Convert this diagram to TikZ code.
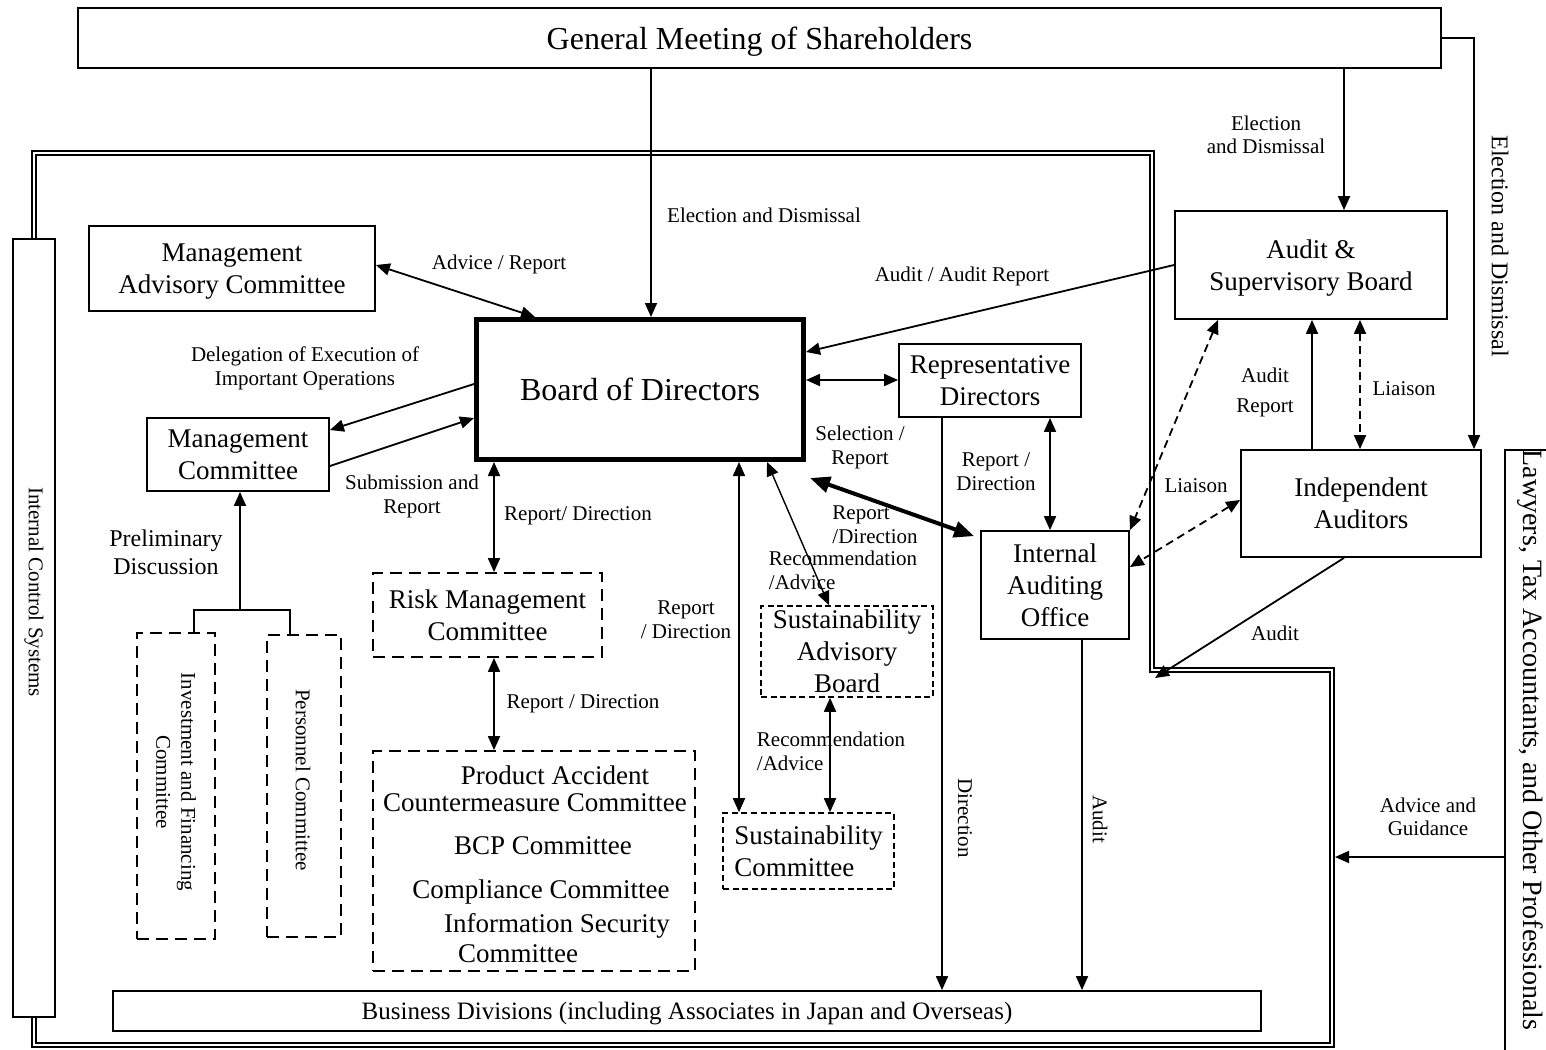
\documentclass[tikz,border=0pt]{standalone}
\usepackage{fontspec}
\setmainfont{Liberation Serif}
\usetikzlibrary{arrows.meta}
\newcommand\bxf{\fontsize{13.5}{16}\selectfont}
\newcommand\lbf{\fontsize{10.5}{12}\selectfont}
\begin{document}
\begin{tikzpicture}[x=0.5pt,y=-0.5pt,
  >={Triangle[length=7pt,width=6pt]},
  box/.style={draw,line width=0.9pt,inner sep=0pt,align=center,font=\bxf,text depth=0pt},
  dbox/.style={box,dash pattern=on 6pt off 3.5pt},
  fbox/.style={box,line width=0.8pt,dash pattern=on 3pt off 1.8pt},
  lbl/.style={font=\lbf,align=center,inner sep=0pt,text depth=0pt},
  rlbl/.style={font=\lbf,align=center,inner sep=0pt,rotate=-90},
  txt/.style={font=\bxf,inner sep=0pt,text depth=0pt},
  arr/.style={line width=0.9pt,->},
  darr/.style={line width=0.9pt,<->},
  dashedarr/.style={line width=0.9pt,<->,dash pattern=on 4pt off 2.5pt},
  dline/.style={double,double distance=1.3pt,line width=0.75pt}
]
\useasboundingbox (0,0) rectangle (1546,1049);

% ---------- boxes ----------
\node[box,minimum width=681.5pt,minimum height=30pt,font=\fontsize{16}{18}\selectfont] (GM) at (759.5,38) {General Meeting of Shareholders};
\node[box,line width=2.5pt,minimum width=163.5pt,minimum height=70pt,font=\fontsize{16}{18}\selectfont] (Board) at (640,389.5) {Board of Directors};
\node[box,minimum width=143pt,minimum height=42.5pt] (MAC) at (232,268.5) {Management\\Advisory Committee};
\node[box,minimum width=91pt,minimum height=36.5pt] (MC) at (238,454.5) {Management\\Committee};
\node[box,minimum width=21pt,minimum height=389pt] (ICS) at (34,628) {};
\node[rlbl] (ICSt) at (34,592) {Internal Control Systems};
\node[dbox,minimum width=39pt,minimum height=153pt] (IFC) at (176,786) {};
\node[rlbl,font=\fontsize{10.5}{12.5}\selectfont] (IFCt) at (176,782) {Investment and Financing\\Committee};
\node[dbox,minimum width=37pt,minimum height=151pt] (PC) at (304,786) {};
\node[rlbl] (PCt) at (303,780) {Personnel Committee};
\node[dbox,minimum width=114.5pt,minimum height=42pt] (RMC) at (487.5,615) {Risk Management\\Committee};
\node[dbox,minimum width=161pt,minimum height=110pt] (PAC) at (534,861) {};
\node[txt] (PAC1) at (555,775) {Product Accident};
\node[txt] (PAC2) at (535,803) {Countermeasure Committee};
\node[txt] (PAC3) at (543,846) {BCP Committee};
\node[txt] (PAC4) at (541,889) {Compliance Committee};
\node[txt] (PAC5) at (557,923) {Information Security};
\node[txt] (PAC6) at (518,954) {Committee};
\node[fbox,minimum width=86pt,minimum height=45.5pt] (SAB) at (847,651.5) {Sustainability\\Advisory\\Board};
\node[fbox,minimum width=85.5pt,minimum height=38pt,align=left] (SC) at (808.5,851) {Sustainability\\Committee};
\node[box,minimum width=91pt,minimum height=36.5pt] (RD) at (990,380.5) {Representative\\Directors};
\node[box,minimum width=74pt,minimum height=54pt] (IAO) at (1055,585) {Internal\\Auditing\\Office};
\node[box,minimum width=136pt,minimum height=54pt] (ASB) at (1311,265) {Audit \&\\Supervisory Board};
\node[box,minimum width=120pt,minimum height=53.5pt] (IA) at (1361,503.5) {Independent\\Auditors};
\node[box,minimum width=574pt,minimum height=20pt,font=\fontsize{12.5}{14}\selectfont] (BD) at (687,1011) {Business Divisions (including Associates in Japan and Overseas)};
\node[box,minimum width=37.5pt,minimum height=315pt] (LAW) at (1542.5,765) {};
\node[rlbl,font=\fontsize{14}{16}\selectfont] (LAWt) at (1530,740) {Lawyers, Tax Accountants, and Other Professionals};

% ---------- frame ----------
\draw[dline] (ICS.north) |- (1152,153) |- (1332,670) -- (1332,1045) -| (ICS.south);
\coordinate (frameA) at (1155,678);
\coordinate (frameB) at (1335,857);
\coordinate (tree) at (240,610);

% ---------- connectors ----------
\draw[arr] (GM.south -| 651,0) -- (Board.north -| 651,0);
\draw[arr] (GM.south -| 1344,0) -- (ASB.north -| 1344,0);
\draw[arr] (GM.east) -| (IA.north -| 1474,0);
\draw[darr] (MAC.east |- 0,265) -- (Board.north -| 535,0);
\draw[arr] (Board.west |- 0,384) -- (MC.east |- 0,430);
\draw[arr] (MC.east |- 0,466) -- (Board.west |- 0,418);
\draw[arr] (tree) -- (MC.south -| tree);
\draw[line width=1.3pt] (IFC.north -| 194,0) |- (tree) -| (PC.north -| 290,0);
\draw[darr] (Board.east |- 0,380) -- (RD.west |- 0,380);
\draw[arr] (ASB.west |- 0,265) -- (Board.east |- 0,352);
\draw[darr] (Board.south -| 494,0) -- (RMC.north -| 494,0);
\draw[darr] (RMC.south -| 494,0) -- (PAC.north -| 494,0);
\draw[darr] (Board.south -| 739,0) -- (SC.north -| 739,0);
\draw[line width=0.7pt,<->] (Board.south -| 767,0) -- (SAB.north -| 829,0);
\draw[darr] (SAB.south -| 830,0) -- (SC.north -| 830,0);
\draw[arr] (RD.south -| 942,0) -- (BD.north -| 942,0);
\draw[darr] (RD.south -| 1050,0) -- (IAO.north -| 1050,0);
\draw[line width=2pt,{Triangle[length=10pt,width=8pt]}-{Triangle[length=10pt,width=8pt]}] ([xshift=2pt,yshift=-8pt]Board.south east) -- ([xshift=-3pt,yshift=-3pt]IAO.north west);
\draw[arr] (IAO.south -| 1082,0) -- (BD.north -| 1082,0);
\draw[dashedarr] (ASB.south -| 1218,0) -- (IAO.north east);
\draw[dashedarr] (IA.west |- 0,500) -- (IAO.east |- 0,567);
\draw[arr] (IA.north -| 1312,0) -- (ASB.south -| 1312,0);
\draw[dashedarr] (ASB.south -| 1360,0) -- (IA.north -| 1360,0);
\draw[arr] (IA.south -| 1344,0) -- (frameA);
\draw[arr] (LAW.west |- frameB) -- (frameB);

% ---------- labels ----------
\node[lbl] (l1) at (764,215) {Election and Dismissal};
\node[lbl,font=\fontsize{10.5}{11.5}\selectfont] (l2) at (1266,135) {Election\\and Dismissal};
\node[rlbl,font=\fontsize{12}{14}\selectfont] (l3) at (1500,246) {Election and Dismissal};
\node[lbl] (l4) at (499,262) {Advice / Report};
\node[lbl] (l5) at (305,366) {Delegation of Execution of\\Important Operations};
\node[lbl] (l6) at (412,494) {Submission and\\Report};
\node[lbl,font=\fontsize{12}{14}\selectfont] (l7) at (166,552) {Preliminary\\Discussion};
\node[lbl] (l8) at (578,514) {Report/ Direction};
\node[lbl] (l9) at (583,702) {Report / Direction};
\node[lbl] (l10) at (686,620) {Report\\/ Direction};
\node[lbl,align=left] (l11) at (843,570) {Recommendation\\/Advice};
\node[lbl,align=left] (l12) at (831,751) {Recommendation\\/Advice};
\node[lbl] (l13) at (962,274) {Audit / Audit Report};
\node[lbl] (l14) at (860,445) {Selection /\\Report};
\node[lbl,align=left] (l15) at (875,525) {Report\\/Direction};
\node[lbl] (l16) at (996,472) {Report /\\Direction};
\node[rlbl] (l17) at (965,818) {Direction};
\node[rlbl] (l18) at (1100,819) {Audit};
\node[lbl,font=\fontsize{10.5}{15}\selectfont] (l19) at (1265,390) {Audit\\Report};
\node[lbl] (l20) at (1404,389) {Liaison};
\node[lbl] (l21) at (1196,486) {Liaison};
\node[lbl] (l22) at (1275,633) {Audit};
\node[lbl,font=\fontsize{10.5}{11.5}\selectfont] (l23) at (1428,817) {Advice and\\Guidance};
\end{tikzpicture}
\end{document}
